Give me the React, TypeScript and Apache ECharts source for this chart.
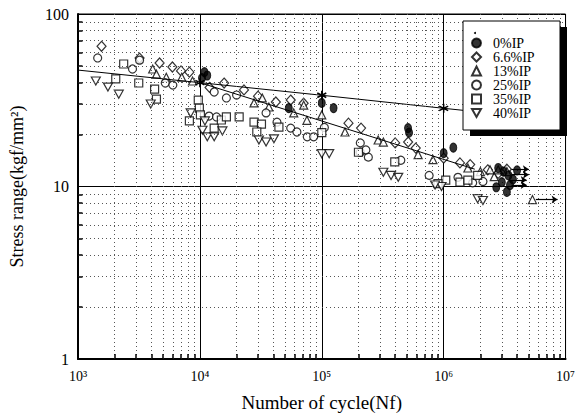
import React, { useEffect, useRef } from "react";
import * as echarts from "echarts";

const FONT = "'Liberation Serif', 'DejaVu Serif', serif";

// tick labels
const xTickLabels = ["10³", "10⁴", "10⁵", "10⁶", "10⁷"];
const xDecades = [1000, 10000, 100000, 1000000];
const yDecades = [1, 10];
const minorMultipliers = [2, 3, 4, 5, 6, 7, 8, 9];

const seriesNames = ["0%IP", "6.6%IP", "13%IP", "25%IP", "35%IP", "40%IP"];

// data [cycles, stress range]
const ip0 = [
  [10900, 46], [11500, 44], [10400, 42.5], [53600, 28.5], [100000, 30.5], [125000, 28.5],
  [510000, 21.8], [520000, 20.5], [1000000, 15.6], [1200000, 16.8], [2800000, 12.8],
  [3100000, 12.2], [3400000, 11.6], [3700000, 11], [3000000, 10.6], [2700000, 9.9],
  [3500000, 10.2], [4000000, 12.4], [3300000, 9.3],
];
const ip66 = [
  [1560, 65], [3200, 55.5], [4670, 52], [5950, 49.3], [7000, 46.8], [8200, 46], [12000, 37.5],
  [15800, 39.8], [23000, 36.3], [30000, 33.4], [42000, 30.9], [55600, 31.7], [71000, 30.4],
  [165600, 23.3], [210000, 21.8], [400000, 17.9], [511000, 18.1], [590000, 16.7],
  [1000000, 14.6], [1360000, 13.7], [1650000, 13.4], [2300000, 12.5], [2800000, 11.9], [3300000, 12.6],
];
const ip13 = [
  [4100, 48], [4400, 44.8], [5300, 43], [7100, 43], [8700, 40.9], [27800, 30.5], [32500, 32.6],
  [36800, 28.9], [58900, 26.7], [71100, 29.6], [75500, 24.2], [100000, 26], [155000, 20.7],
  [290000, 18.6], [320000, 18.1], [617000, 15.3], [817000, 14.3], [1580000, 12.8],
  [2000000, 12.2], [2400000, 12.5], [2600000, 11.4], [2800000, 12.5], [3300000, 12.2], [5350000, 8.4],
];
const ip25 = [
  [1450, 55.6], [2800, 48], [3200, 54], [5200, 39.8], [6000, 38.7], [11900, 25.6], [13700, 25.3],
  [13100, 35.3], [16500, 32.6], [20000, 33.9], [34900, 26.7], [42900, 23.6], [55600, 21.8],
  [62500, 20.7], [76000, 19.4], [85800, 19.4], [105000, 22], [207000, 17.9], [207000, 15.8],
  [241000, 14.8], [230000, 16.3], [445000, 14.2], [760000, 11.6], [1310000, 11.3],
  [1730000, 10.5], [2100000, 10.7],
];
const ip35 = [
  [2370, 51.3], [2040, 42.1], [3150, 39.8], [4250, 36.7], [4400, 32.1], [9700, 31.7], [9900, 28.5],
  [10100, 26], [8200, 24], [13100, 21.8], [15000, 24.3], [16500, 25.3], [21000, 25.3],
  [27800, 23.6], [32000, 23], [29300, 20.7], [44500, 22.1], [100000, 20.5], [200000, 15.8],
  [397000, 13.9], [1040000, 10.9], [898000, 10.4], [1360000, 10.6], [1580000, 10.9], [1900000, 11.6],
];
const ip40 = [
  [1400, 40.9], [1760, 37.7], [2160, 34.3], [3950, 30.1], [8400, 26.7], [10500, 21.2], [11000, 24],
  [11500, 19.4], [13100, 19.4], [15300, 21], [30500, 18.6], [34900, 18.1], [40500, 18.9],
  [100000, 15.5], [115000, 15.5], [320000, 12.1], [370000, 11.6], [424000, 11.3],
  [960000, 10], [850000, 10.2], [1900000, 8.5], [2100000, 8.3],
];

// S-N lines
const line1 = [[1000, 47.3], [10000, 40], [100000, 33.8], [1000000, 28.4], [10000000, 24]];
const line2 = [[10000, 40], [1800000, 12.6]];

// run-out arrows [from, to]
const runouts = [
  [[3600000, 12.6], [5000000, 12.6]],
  [[3600000, 11.7], [5000000, 11.7]],
  [[3400000, 10.9], [4800000, 10.9]],
  [[3600000, 10.2], [4800000, 10.2]],
  [[5700000, 8.4], [8600000, 8.4]],
];

const ASTERISK = "path://M5 0L5 10M0.7 2.5L9.3 7.5M0.7 7.5L9.3 2.5";
const DOWN_TRIANGLE = "path://M0 0L10 0L5 9Z";

export default function App() {
  const ref = useRef<HTMLDivElement>(null);
  useEffect(() => {
    if (!ref.current) return;
    const chart = echarts.init(ref.current, undefined, { renderer: "svg" });

    const gridLines: any[] = [];
    xDecades.forEach((d) => minorMultipliers.forEach((m) => gridLines.push({ xAxis: d * m })));
    yDecades.forEach((d) => minorMultipliers.forEach((m) => gridLines.push({ yAxis: d * m })));

    const tickLines: any[] = [];
    xDecades.forEach((d) =>
      minorMultipliers.forEach((m) => tickLines.push([{ coord: [d * m, 1] }, { coord: [d * m, 1.07] }]))
    );
    yDecades.forEach((d) =>
      minorMultipliers.forEach((m) => tickLines.push([{ coord: [1000, d * m] }, { coord: [1090, d * m] }]))
    );

    const open = { color: "#fff", borderColor: "#000", borderWidth: 1.2 };
    const scatter = (name: string, data: number[][], symbol: string, extra: any = {}) => ({
      type: "scatter",
      name,
      data,
      symbol,
      symbolSize: 8,
      itemStyle: open,
      z: 3,
      ...extra,
    });

    chart.setOption({
      animation: false,
      backgroundColor: "#fff",
      textStyle: { fontFamily: FONT },
      grid: {
        left: 78,
        right: 10,
        top: 14,
        bottom: 59,
        show: true,
        borderColor: "#000",
        borderWidth: 1,
      },
      xAxis: {
        type: "log",
        logBase: 10,
        min: 1000,
        max: 10000000,
        axisLine: { show: true, lineStyle: { color: "#000", width: 2 } },
        axisTick: { show: false },
        axisLabel: {
          color: "#000",
          fontFamily: FONT,
          fontSize: 14,
          margin: 10,
          formatter: (v: number) => xTickLabels[Math.round(Math.log10(v)) - 3] ?? "",
        },
        splitLine: { show: true, lineStyle: { color: "#000", width: 1 } },
        name: "Number of cycle(Nf)",
        nameLocation: "middle",
        nameGap: 34,
        nameTextStyle: { color: "#000", fontFamily: FONT, fontSize: 19 },
      },
      yAxis: {
        type: "log",
        logBase: 10,
        min: 1,
        max: 100,
        axisLine: { show: true, lineStyle: { color: "#000", width: 2 } },
        axisTick: { show: false },
        axisLabel: { color: "#000", fontFamily: FONT, fontSize: 16, margin: 9 },
        splitLine: { show: true, lineStyle: { color: "#000", width: 1 } },
        name: "Stress range(kgf/mm²)",
        nameLocation: "middle",
        nameGap: 52,
        nameTextStyle: { color: "#000", fontFamily: FONT, fontSize: 18 },
      },
      legend: {
        data: seriesNames,
        orient: "vertical",
        left: 471,
        top: 36,
        padding: 0,
        itemWidth: 9,
        itemHeight: 9,
        itemGap: 0,
        z: 10,
        textStyle: {
          color: "#000",
          fontFamily: FONT,
          fontSize: 14,
          lineHeight: 14,
          padding: [0, 0, 0, 7],
        },
      },
      graphic: [
        { type: "rect", z: 9, shape: { x: 470, y: 27, width: 97, height: 109 }, style: { fill: "#000" } },
        {
          type: "rect",
          z: 9,
          shape: { x: 463, y: 21, width: 97, height: 109 },
          style: { fill: "#fff", stroke: "#000", lineWidth: 1 },
        },
        { type: "circle", z: 11, shape: { cx: 475, cy: 33, r: 1 }, style: { fill: "#000" } },
      ],
      series: [
        {
          type: "line",
          name: "grid",
          data: [],
          silent: true,
          markLine: {
            silent: true,
            symbol: ["none", "none"],
            label: { show: false },
            lineStyle: { color: "#555", width: 1, type: [1, 3] },
            data: gridLines,
          },
        },
        {
          type: "line",
          name: "ticks",
          data: [],
          silent: true,
          markLine: {
            silent: true,
            symbol: ["none", "none"],
            label: { show: false },
            lineStyle: { color: "#000", width: 1.5, type: "solid" },
            data: tickLines,
          },
        },
        {
          type: "line",
          name: "line1",
          data: line1.map((p, i) =>
            i === 0 || i === line1.length - 1 ? { value: p, symbol: "none" } : { value: p }
          ),
          symbol: ASTERISK,
          symbolSize: 9,
          showSymbol: true,
          itemStyle: { color: "#000", borderColor: "#000", borderWidth: 1.5 },
          lineStyle: { color: "#000", width: 1 },
          z: 4,
        },
        {
          type: "line",
          name: "line2",
          data: line2,
          symbol: "none",
          lineStyle: { color: "#000", width: 1 },
          z: 4,
        },
        scatter("0%IP", ip0, "circle", {
          symbolSize: [7, 9],
          itemStyle: { color: "#000", borderColor: "#000", borderWidth: 1 },
          z: 5,
          markLine: {
            silent: true,
            symbol: ["none", "arrow"],
            symbolSize: 6,
            label: { show: false },
            lineStyle: { color: "#000", width: 1.2, type: "solid" },
            data: runouts.map(([a, b]) => [{ coord: a }, { coord: b }]),
          },
        }),
        scatter("6.6%IP", ip66, "diamond", { symbolSize: [9, 10] }),
        scatter("13%IP", ip13, "triangle"),
        scatter("25%IP", ip25, "circle"),
        scatter("35%IP", ip35, "rect"),
        scatter("40%IP", ip40, DOWN_TRIANGLE, { symbolSize: [9, 8] }),
      ],
    });
    return () => chart.dispose();
  }, []);
  return (
    <div
      ref={ref}
      style={{ position: "fixed", left: 0, top: 0, width: 578, height: 418, background: "#fff" }}
    />
  );
}
